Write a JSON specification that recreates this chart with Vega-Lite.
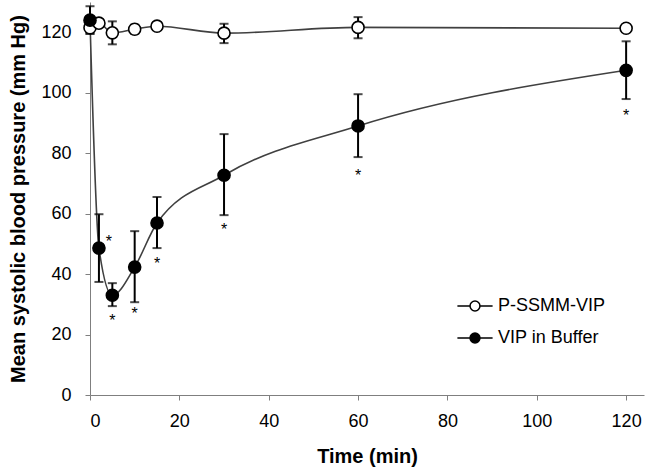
{
  "$schema": "https://vega.github.io/schema/vega-lite/v6.json",
  "width": 554,
  "height": 393,
  "autosize": "none",
  "padding": {"left": 90, "top": 2, "right": 5, "bottom": 76},
  "background": "white",
  "config": {
    "view": {"stroke": null},
    "font": "Liberation Sans",
    "axis": {
      "grid": false,
      "domainColor": "#7f7f7f",
      "tickColor": "#7f7f7f",
      "domainWidth": 1,
      "tickWidth": 1,
      "tickSize": 5,
      "labelFont": "Liberation Sans",
      "labelFontSize": 18,
      "labelColor": "black",
      "titleFont": "Liberation Sans",
      "titleFontWeight": "bold",
      "titleColor": "black"
    }
  },
  "datasets": {
    "bp": [
      {"series": "P-SSMM-VIP", "time": 0, "mean": 121.5, "lo": 119.5, "hi": 123.5},
      {"series": "P-SSMM-VIP", "time": 2, "mean": 123, "lo": 122, "hi": 124},
      {"series": "P-SSMM-VIP", "time": 5, "mean": 119.8, "lo": 116, "hi": 123.6},
      {"series": "P-SSMM-VIP", "time": 10, "mean": 121, "lo": 119.5, "hi": 122.5},
      {"series": "P-SSMM-VIP", "time": 15, "mean": 122, "lo": 121, "hi": 123},
      {"series": "P-SSMM-VIP", "time": 30, "mean": 119.7, "lo": 116.4, "hi": 122.8},
      {"series": "P-SSMM-VIP", "time": 60, "mean": 121.6, "lo": 118, "hi": 125},
      {"series": "P-SSMM-VIP", "time": 120, "mean": 121.3, "lo": 120.8, "hi": 121.8},
      {"series": "VIP in Buffer", "time": 0, "mean": 124, "lo": 119.5, "hi": 128.6},
      {"series": "VIP in Buffer", "time": 2, "mean": 48.6, "lo": 37.4, "hi": 59.8},
      {"series": "VIP in Buffer", "time": 5, "mean": 33, "lo": 29.4, "hi": 37},
      {"series": "VIP in Buffer", "time": 10, "mean": 42.3, "lo": 30.7, "hi": 54.2},
      {"series": "VIP in Buffer", "time": 15, "mean": 56.9, "lo": 48.6, "hi": 65.5},
      {"series": "VIP in Buffer", "time": 30, "mean": 72.7, "lo": 59.5, "hi": 86.3},
      {"series": "VIP in Buffer", "time": 60, "mean": 89, "lo": 78.7, "hi": 99.5},
      {"series": "VIP in Buffer", "time": 120, "mean": 107.4, "lo": 97.9, "hi": 117}
    ],
    "stars": [
      {"time": 2, "pos": 52, "side": "right"},
      {"time": 5, "pos": 25.8, "side": "below"},
      {"time": 10, "pos": 28, "side": "below"},
      {"time": 15, "pos": 44.6, "side": "below"},
      {"time": 30, "pos": 56, "side": "below"},
      {"time": 60, "pos": 73.7, "side": "below"},
      {"time": 120, "pos": 93.5, "side": "below"}
    ]
  },
  "layer": [
    {
      "data": {"name": "bp"},
      "mark": {"type": "line", "interpolate": "monotone", "color": "#404040", "strokeWidth": 1.6},
      "encoding": {
        "x": {"field": "time", "type": "quantitative", "scale": {"domain": [0, 124], "nice": false},
              "axis": {"values": [0, 20, 40, 60, 80, 100, 120], "title": "Time (min)", "titleFontSize": 20, "labelPadding": 12, "titlePadding": 16}},
        "y": {"field": "mean", "type": "quantitative", "scale": {"domain": [0, 130], "nice": false},
              "axis": {"values": [0, 20, 40, 60, 80, 100, 120], "title": "Mean systolic blood pressure (mm Hg)", "titleFontSize": 20, "labelPadding": 14, "titlePadding": 12}},
        "detail": {"field": "series"}
      }
    },
    {
      "data": {"name": "bp"},
      "mark": {"type": "rule", "color": "black", "strokeWidth": 2},
      "encoding": {
        "x": {"field": "time", "type": "quantitative"},
        "y": {"field": "lo", "type": "quantitative"},
        "y2": {"field": "hi"}
      }
    },
    {
      "data": {"name": "bp"},
      "mark": {"type": "tick", "orient": "horizontal", "color": "black", "size": 9, "thickness": 2},
      "encoding": {
        "x": {"field": "time", "type": "quantitative"},
        "y": {"field": "lo", "type": "quantitative"}
      }
    },
    {
      "data": {"name": "bp"},
      "mark": {"type": "tick", "orient": "horizontal", "color": "black", "size": 9, "thickness": 2},
      "encoding": {
        "x": {"field": "time", "type": "quantitative"},
        "y": {"field": "hi", "type": "quantitative"}
      }
    },
    {
      "data": {"name": "bp"},
      "mark": {"type": "point", "filled": false, "stroke": "black", "strokeWidth": 1.6, "size": 145, "opacity": 1},
      "encoding": {
        "x": {"field": "time", "type": "quantitative"},
        "y": {"field": "mean", "type": "quantitative"},
        "fill": {"field": "series", "type": "nominal",
                 "scale": {"domain": ["P-SSMM-VIP", "VIP in Buffer"], "range": ["white", "black"]},
                 "legend": {"orient": "none", "legendX": 373, "legendY": 292, "title": null,
                            "symbolType": "M -1.6 0 L -0.45 0 M 0.45 0 L 1.6 0 M 0.45 0 A 0.45 0.45 0 1 1 -0.45 0 A 0.45 0.45 0 1 1 0.45 0",
                            "symbolSize": 484, "symbolStrokeColor": "black", "symbolStrokeWidth": 1.5,
                            "labelFontSize": 18, "labelFont": "Liberation Sans", "labelColor": "black",
                            "rowPadding": 11, "labelOffset": 11}},
        "order": {"field": "series"}
      }
    },
    {
      "data": {"name": "stars"},
      "transform": [{"filter": "datum.side === 'below'"}],
      "mark": {"type": "text", "text": "*", "fontSize": 16, "font": "Liberation Sans", "baseline": "middle", "dy": 4},
      "encoding": {
        "x": {"field": "time", "type": "quantitative"},
        "y": {"field": "pos", "type": "quantitative"}
      }
    },
    {
      "data": {"name": "stars"},
      "transform": [{"filter": "datum.side === 'right'"}],
      "mark": {"type": "text", "text": "*", "fontSize": 16, "font": "Liberation Sans", "baseline": "middle", "dy": 4, "dx": 10},
      "encoding": {
        "x": {"field": "time", "type": "quantitative"},
        "y": {"field": "pos", "type": "quantitative"}
      }
    }
  ]
}
